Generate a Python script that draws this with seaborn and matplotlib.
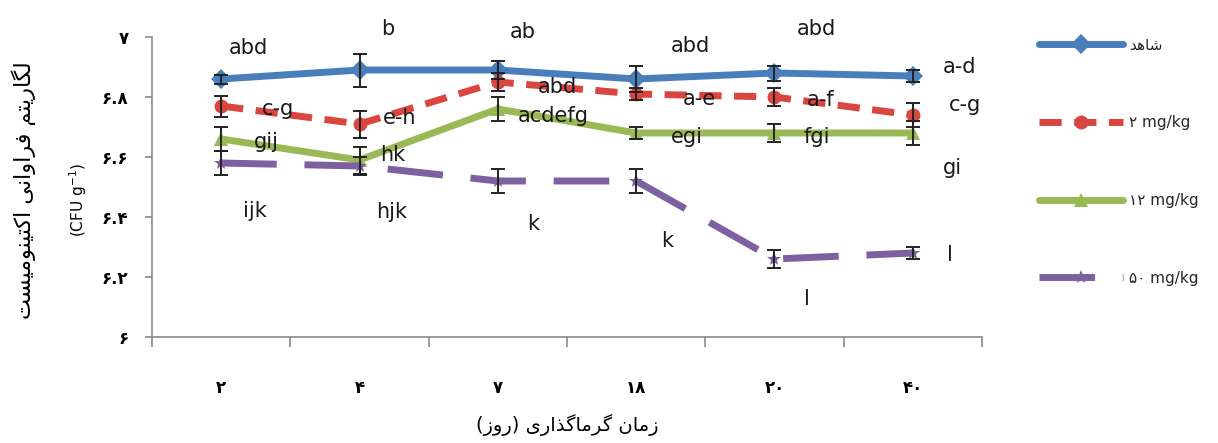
import numpy as np
import pandas as pd
import matplotlib
matplotlib.use("Agg")
import matplotlib.pyplot as plt
import seaborn as sns

# ---------------------------------------------------------------------------
# Minimal Persian shaping: contextual presentation forms + visual (RTL) order
# ---------------------------------------------------------------------------
RIGHT_ONLY = set("اآدذرزژو")
FORMS = {
    "ا": ("\uFE8D", "\uFE8E", None, None),
    "د": ("\uFEA9", "\uFEAA", None, None),
    "ذ": ("\uFEAB", "\uFEAC", None, None),
    "ر": ("\uFEAD", "\uFEAE", None, None),
    "ز": ("\uFEAF", "\uFEB0", None, None),
    "و": ("\uFEED", "\uFEEE", None, None),
    "ت": ("\uFE95", "\uFE96", "\uFE97", "\uFE98"),
    "س": ("\uFEB1", "\uFEB2", "\uFEB3", "\uFEB4"),
    "ش": ("\uFEB5", "\uFEB6", "\uFEB7", "\uFEB8"),
    "ف": ("\uFED1", "\uFED2", "\uFED3", "\uFED4"),
    "ل": ("\uFEDD", "\uFEDE", "\uFEDF", "\uFEE0"),
    "م": ("\uFEE1", "\uFEE2", "\uFEE3", "\uFEE4"),
    "ن": ("\uFEE5", "\uFEE6", "\uFEE7", "\uFEE8"),
    "ه": ("\uFEE9", "\uFEEA", "\uFEEB", "\uFEEC"),
    "ک": ("\uFB8E", "\uFB8F", "\uFB90", "\uFB91"),
    "گ": ("\uFB92", "\uFB93", "\uFB94", "\uFB95"),
    "ی": ("\uFBFC", "\uFBFD", "\uFBFE", "\uFBFF"),
}


def shape(text):
    out = []
    for i, ch in enumerate(text):
        if ch not in FORMS:
            out.append(ch)
            continue
        prev = text[i - 1] if i > 0 else ""
        nxt = text[i + 1] if i + 1 < len(text) else ""
        jp = prev in FORMS and prev not in RIGHT_ONLY
        jn = ch not in RIGHT_ONLY and nxt in FORMS
        iso, fin, ini, med = FORMS[ch]
        if jp and jn:
            out.append(med)
        elif jp:
            out.append(fin)
        elif jn:
            out.append(ini)
        else:
            out.append(iso)
    vis = "".join(reversed(out))
    return vis.translate(str.maketrans("()", ")("))


# ---------------------------------------------------------------------------
# Data
# ---------------------------------------------------------------------------
days = ["۲", "۴", "۷", "۱۸", "۲۰", "۴۰"]
group_names = [shape("شاهد"), "۲ mg/kg", "۱۲ mg/kg", "۵۰ mg/kg"]

control = [6.86, 6.89, 6.89, 6.86, 6.88, 6.87]
dose_2 = [6.77, 6.71, 6.85, 6.81, 6.80, 6.74]
dose_12 = [6.66, 6.59, 6.76, 6.68, 6.68, 6.68]
dose_50 = [6.58, 6.57, 6.52, 6.52, 6.26, 6.28]

control_err = [0.015, 0.055, 0.03, 0.045, 0.025, 0.02]
dose_2_err = [0.035, 0.045, 0.03, 0.02, 0.03, 0.04]
dose_12_err = [0.04, 0.045, 0.04, 0.02, 0.03, 0.04]
dose_50_err = [0.04, 0.03, 0.04, 0.04, 0.03, 0.02]

control_letters = ["abd", "b", "ab", "abd", "abd", "a-d"]
dose_2_letters = ["c-g", "e-h", "abd", "a-e", "a-f", "c-g"]
dose_12_letters = ["gij", "hk", "acdefg", "egi", "fgi", "gi"]
dose_50_letters = ["ijk", "hjk", "k", "k", "l", "l"]

y_ticks = [6.0, 6.2, 6.4, 6.6, 6.8, 7.0]
y_tick_labels = ["۶", "۶.۲", "۶.۴", "۶.۶", "۶.۸", "۷"]

series_values = [control, dose_2, dose_12, dose_50]
series_errors = [control_err, dose_2_err, dose_12_err, dose_50_err]
series_letters = [control_letters, dose_2_letters, dose_12_letters, dose_50_letters]

positions = np.arange(len(days))
df = pd.concat(
    [pd.DataFrame({"pos": positions, "value": vals, "group": name})
     for name, vals in zip(group_names, series_values)],
    ignore_index=True,
)

# ---------------------------------------------------------------------------
# Styling
# ---------------------------------------------------------------------------
sns.set_theme(style="white")
plt.rcParams["font.family"] = ["DejaVu Sans"]

colors = ["#4a7ebb", "#d9453f", "#98b954", "#7d60a0"]
palette = dict(zip(group_names, colors))
markers = dict(zip(group_names, ["D", "o", "^", "*"]))
dashes = dict(zip(group_names, ["", (3.2, 1.8), "", (8, 4)]))

# letter offsets in pixels (dx, dy) relative to each point
letter_offsets = [
    [(27, 31), (28, 41), (25, 38), (54, 33), (42, 44), (47, 9)],
    [(57, -3), (40, 6), (60, -5), (63, -5), (46, -3), (52, 10)],
    [(45, -3), (33, 5), (55, -7), (51, -4), (42, -4), (40, -35)],
    [(34, -48), (32, -46), (35, -43), (31, -60), (32, -40), (37, -2)],
]

W, H = 1218, 443
fig = plt.figure(figsize=(W / 100, H / 100), dpi=100)
ax = fig.add_axes([152 / W, 1 - 337 / H, 830 / W, 300 / H])

sns.lineplot(
    data=df, x="pos", y="value", hue="group", style="group",
    palette=palette, markers=markers, dashes=dashes,
    hue_order=group_names, style_order=group_names,
    linewidth=5, markersize=10, markeredgewidth=0, ax=ax, zorder=2,
)

for vals, errs in zip(series_values, series_errors):
    ax.errorbar(positions, vals, yerr=errs, fmt="none", ecolor="#222222",
                elinewidth=1.4, capsize=5, capthick=1.4, zorder=3)

for vals, letters, offs in zip(series_values, series_letters, letter_offsets):
    for x, y, lab, (dx, dy) in zip(positions, vals, letters, offs):
        ax.annotate(lab, (x, y), xytext=(dx, dy), textcoords="offset pixels",
                    ha="center", va="center", fontsize=15, color="#1a1a1a",
                    zorder=4)

ax.set_xlim(-0.5, len(days) - 0.5)
ax.set_ylim(6, 7)
ax.set_yticks(y_ticks)
ax.set_yticklabels(y_tick_labels, fontsize=12, color="black", fontweight="bold")
ax.set_xticks(positions)
ax.set_xticklabels(days, fontsize=12, color="black", fontweight="bold")
ax.set_xticks(np.arange(-0.5, len(days)), minor=True)
ax.tick_params(axis="x", which="major", length=0, pad=30, bottom=True)
ax.tick_params(axis="x", which="minor", length=7, width=1.2, color="#8a8a8a",
               direction="out", bottom=True)
ax.tick_params(axis="y", length=5, width=1.2, color="#8a8a8a", pad=12,
               direction="out", left=True)
ax.set_xlabel("")
ax.set_ylabel("")
sns.despine(ax=ax)
for side in ("left", "bottom"):
    ax.spines[side].set_color("#8a8a8a")
    ax.spines[side].set_linewidth(1.2)

fig.text(567 / W, 1 - 425 / H, shape("زمان گرماگذاری (روز)"),
         ha="center", va="center", fontsize=14, color="black")
fig.text(24 / W, 1 - 190 / H, shape("لگاریتم فراوانی اکتینومیست"),
         ha="center", va="center", rotation=90, fontsize=16, color="black")
fig.text(78 / W, 1 - 200 / H, "(CFU g$^{-1}$)",
         ha="center", va="center", rotation=90, fontsize=11, color="black")

handles, labels = ax.get_legend_handles_labels()
ax.get_legend().remove()
fig.legend(handles, labels, loc="upper left",
           bbox_to_anchor=(1025 / W, 1 - 24 / H), frameon=False,
           fontsize=11, handlelength=5.5, handletextpad=0.4,
           labelspacing=4.1)

fig.savefig("out.png", dpi=100)
